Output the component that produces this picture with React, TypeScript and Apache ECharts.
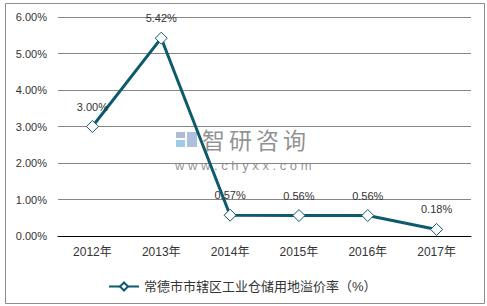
import React, { useEffect, useRef } from "react";
import * as echarts from "echarts";

const categories = ["2012年", "2013年", "2014年", "2015年", "2016年", "2017年"];
const values = [3.0, 5.42, 0.57, 0.56, 0.56, 0.18];
const seriesName = "常德市市辖区工业仓储用地溢价率（%）";
const watermarkChars = ["智", "研", "咨", "询"];

export default function App() {
  const ref = useRef<HTMLDivElement>(null);
  useEffect(() => {
    if (!ref.current) return;
    const chart = echarts.init(ref.current, undefined, { renderer: "svg" });
    const font = "Arial, 'Liberation Sans', 'Noto Sans CJK SC', sans-serif";
    const wm = watermarkChars.map((c, i) => ({
      type: "text",
      x: 202 + i * 27,
      y: 127,
      style: {
        text: c,
        font: "23px 'Noto Sans CJK SC', sans-serif",
        fill: "rgba(110,110,110,0.75)",
      },
      z: 0,
    }));
    chart.setOption({
      animation: false,
      backgroundColor: "#fff",
      textStyle: { fontFamily: font },
      grid: { left: 58, right: 16, top: 17, bottom: 70 },
      legend: {
        data: [seriesName],
        left: 103,
        top: 275,
        itemWidth: 30,
        itemHeight: 10,
        itemGap: 4,
        textStyle: { fontSize: 13, color: "#333", fontFamily: font },
      },
      graphic: [
        {
          type: "rect",
          shape: { x: 5.5, y: 3.5, width: 479, height: 300 },
          style: { fill: "none", stroke: "#8c8c8c", lineWidth: 1 },
          z: -10,
        },
        {
          type: "rect",
          shape: { x: 176, y: 132, width: 9, height: 6 },
          style: { fill: "rgba(120,140,190,0.6)" },
          z: 0,
        },
        {
          type: "rect",
          shape: { x: 176, y: 140, width: 9, height: 7 },
          style: { fill: "rgba(90,170,220,0.6)" },
          z: 0,
        },
        {
          type: "rect",
          shape: { x: 187, y: 132, width: 10, height: 15 },
          style: { fill: "rgba(120,150,200,0.6)" },
          z: 0,
        },
        ...wm,
        {
          type: "text",
          x: 175,
          y: 159,
          style: {
            text: "w w w . c h y x x . c o m",
            font: "13px Arial, 'Liberation Sans', sans-serif",
            fill: "rgba(110,110,110,0.75)",
          },
          z: 0,
        },
      ],
      xAxis: {
        type: "category",
        data: categories,
        boundaryGap: true,
        axisLine: { lineStyle: { color: "#000", width: 1 } },
        axisTick: { show: false },
        axisLabel: { color: "#333", fontSize: 12, margin: 10, fontFamily: font },
      },
      yAxis: {
        type: "value",
        min: 0,
        max: 6,
        interval: 1,
        axisLine: { show: false },
        axisTick: { show: false },
        axisLabel: {
          color: "#333",
          fontSize: 11,
          margin: 11,
          fontFamily: font,
          formatter: (v: number) => v.toFixed(2) + "%",
        },
        splitLine: { lineStyle: { color: "#868686", width: 1 } },
      },
      series: [
        {
          name: seriesName,
          type: "line",
          data: values,
          symbol: "diamond",
          symbolSize: 12,
          z: 5,
          lineStyle: { color: "#0d5a6e", width: 3 },
          itemStyle: { color: "#fff", borderColor: "#0d5a6e", borderWidth: 1 },
          label: {
            show: true,
            position: "top",
            distance: 8,
            fontSize: 11,
            color: "#333",
            fontFamily: font,
            formatter: (p: any) => p.value.toFixed(2) + "%",
          },
        },
      ],
    });
    return () => chart.dispose();
  }, []);
  return <div ref={ref} style={{ width: 487, height: 306, position: "absolute", left: 0, top: 0 }} />;
}
